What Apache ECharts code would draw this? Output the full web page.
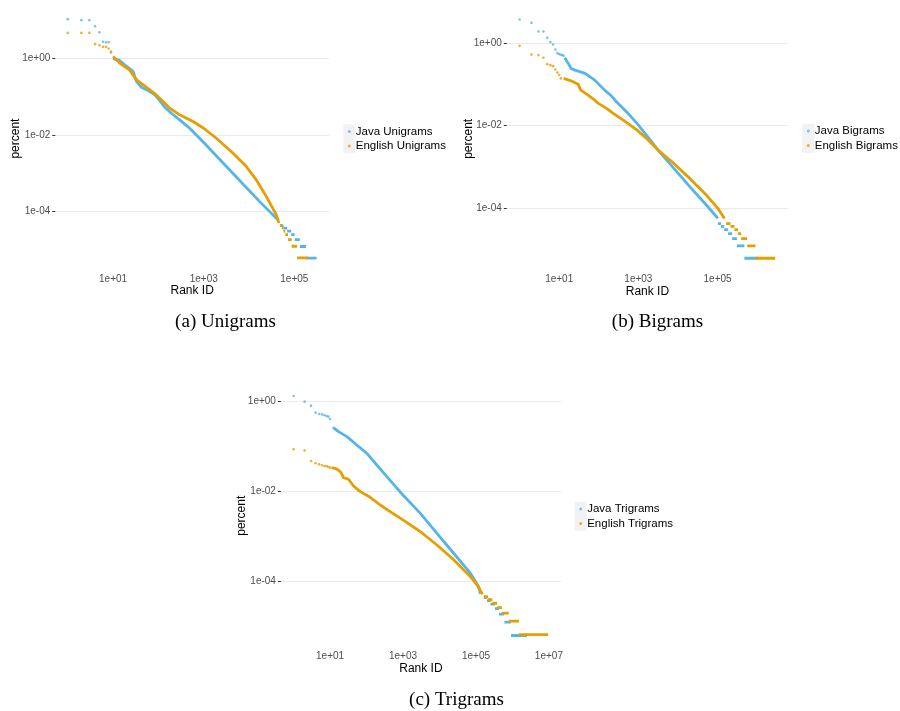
<!DOCTYPE html>
<html><head><meta charset="utf-8">
<script src="https://cdn.jsdelivr.net/npm/echarts@6/dist/echarts.min.js"></script>
<style>html,body{margin:0;padding:0;background:#fff}#c{width:900px;height:711px}</style>
</head><body><div id="c"></div>
<script>
// ---------- DATA (rank, percent) ----------
// (a) Unigrams
const uniJavaHead = [[1,10.4],[2,9.8],[3,9.8],[4,6.8],[5,4.75],[6,2.66],[7,2.6],[8,2.6],[9,1.4]];
const uniJavaBody = [[10,0.977],[14,0.871],[20,0.607],[28,0.449],[30,0.333],[33,0.246],[42,0.175],[59,0.144],[83,0.110],[107,0.0787],[138,0.0527],[194,0.0367],[295,0.0246],[490,0.0149],[1000,0.00631],[3980,0.00113],[17200,0.000182],[43700,0.0000607]];
const uniJavaSteps = [[49000,57500,4.3e-5],[57500,69200,3.7e-5],[69200,85100,3.1e-5],[85100,102000,2.5e-5],[102000,132000,1.85e-5],[132000,182000,1.23e-5],[182000,309000,6.15e-6]];
const uniEngHead = [[1,4.56],[2,4.56],[3,4.56],[4,2.32],[5,2.18],[6,1.97],[7,1.97],[8,1.78],[9,1.49]];
const uniEngBody = [[10,1.10],[15,0.698],[23,0.495],[33,0.272],[54,0.175],[90,0.110],[127,0.0741],[178,0.0497],[295,0.0333],[582,0.0223],[1000,0.0149],[1900,0.00818],[4440,0.00333],[8730,0.00149],[14500,0.00067],[24100,0.000246],[40100,0.0000818],[45700,0.00005]];
const uniEngSteps = [[47900,52500,4.35e-5],[52500,57500,3.75e-5],[57500,63100,3.1e-5],[63100,72400,2.5e-5],[72400,87100,1.87e-5],[87100,115000,1.25e-5],[115000,200000,6.25e-6]];
// (b) Bigrams
const biJavaHead = [[1,3.84],[2,3.17],[3,1.95],[4,1.95],[5,1.37],[6,1.08],[7,0.944],[8,0.714],[9,0.58],[10,0.55],[11,0.53],[12,0.52],[13,0.5]];
const biJavaBody = [[14,0.45],[15,0.39],[17,0.326],[20,0.246],[25,0.224],[45,0.186],[79,0.128],[141,0.0731],[210,0.0524],[280,0.0381],[501,0.0217],[927,0.0113],[1600,0.00589],[3140,0.00254],[7530,0.000962],[19800,0.000326],[52100,0.000117],[102000,0.000055]];
const biJavaSteps = [[102000,122000,4.13e-5],[122000,147000,3.54e-5],[147000,185000,2.95e-5],[185000,233000,2.36e-5],[233000,307000,1.77e-5],[307000,475000,1.18e-5],[475000,1040000,5.9e-6]];
const biEngHead = [[1,0.875],[2,0.54],[3,0.52],[4,0.447],[5,0.313],[6,0.296],[7,0.28],[8,0.233],[9,0.197],[10,0.17],[11,0.141]];
const biEngBody = [[13,0.141],[20,0.123],[30,0.102],[35,0.0731],[54,0.0552],[79,0.0417],[97,0.0347],[157,0.0263],[231,0.0198],[414,0.0136],[927,0.00778],[1600,0.0049],[3140,0.00254],[7530,0.00125],[19800,0.000519],[52100,0.000204],[102000,0.0000966],[150000,0.000055]];
const biEngSteps = [[165000,212000,4.13e-5],[212000,267000,3.54e-5],[267000,329000,2.95e-5],[329000,395000,2.36e-5],[395000,559000,1.77e-5],[559000,906000,1.18e-5],[906000,2860000,5.9e-6]];
// (c) Trigrams
const triJavaHead = [[1,1.34],[2,1.0],[3,0.815],[4,0.569],[5,0.531],[6,0.52],[7,0.496],[8,0.479],[9,0.463],[10,0.41]];
const triJavaBody = [[12,0.267],[17,0.214],[29,0.166],[54,0.108],[102,0.0703],[191,0.0385],[361,0.0212],[991,0.00826],[2950,0.00324],[8510,0.00115],[24500,0.000412],[70100,0.000148],[119000,0.0000741],[132000,0.000051]];
const triJavaSteps = [[162000,200000,4.2e-5],[200000,251000,3.6e-5],[251000,331000,3.0e-5],[331000,427000,2.4e-5],[427000,603000,1.8e-5],[603000,912000,1.2e-5],[912000,2510000,6.0e-6]];
const triEngHead = [[1,0.0865],[2,0.0807],[3,0.0474],[4,0.0422],[5,0.0398],[6,0.038],[7,0.0367],[8,0.0363],[9,0.0348],[10,0.034]];
const triEngBody = [[11,0.0339],[15,0.0316],[19,0.0275],[21,0.0239],[23,0.0201],[32,0.0185],[44,0.0131],[67,0.0098],[126,0.00733],[237,0.00493],[445,0.00351],[991,0.00229],[2950,0.00126],[8510,0.000631],[24500,0.000295],[70100,0.000124],[107000,0.0000809],[151000,0.00005]];
const triEngSteps = [[166000,214000,4.41e-5],[214000,282000,3.78e-5],[282000,380000,3.15e-5],[380000,513000,2.52e-5],[513000,794000,1.89e-5],[794000,1510000,1.26e-5],[1510000,9550000,6.3e-6]];
// tick exponents (labels 1e+01 ...)
const uniXTicks = [1,3,5];
const biXTicks = [1,3,5];
const triXTicks = [1,3,5,7];
const yTicks = [-4,-2,0];
const uniNames = ['Java Unigrams','English Unigrams'];
const biNames = ['Java Bigrams','English Bigrams'];
const triNames = ['Java Trigrams','English Trigrams'];
const captions = ['(a) Unigrams','(b) Bigrams','(c) Trigrams'];

// ---------- BUILD ----------
const JAVA = '#56B4E9', ENG = '#E69F00';
const FONT = '"Liberation Sans", Arial, sans-serif';
const L = Math.log10;
const toLog = a => a.map(p => [L(p[0]), L(p[1])]);
function lineData(body, steps){
  const out = toLog(body);
  steps.forEach(s => { out.push([NaN, NaN]); out.push([L(s[0]), L(s[2])], [L(s[1]), L(s[2])]); });
  return out;
}
function fmt(v){ const e = Math.round(v); return '1e' + (e < 0 ? '-' : '+') + String(Math.abs(e)).padStart(2,'0'); }
function ext(pts){ let mn=Infinity, mx=-Infinity; pts.forEach(v=>{ if(isFinite(v)){ mn=Math.min(mn,v); mx=Math.max(mx,v);} }); const pad=(mx-mn)*0.05; return [mn-pad, mx+pad]; }

const panels = [
  {jh:uniJavaHead,jb:uniJavaBody,js:uniJavaSteps,eh:uniEngHead,eb:uniEngBody,es:uniEngSteps,xt:uniXTicks,names:uniNames,cap:captions[0],
   grid:{left:55.3,top:7.2,width:273.7,height:262.8}, dot:[349.3,131.5], capPos:[225.5,322], yGap:34},
  {jh:biJavaHead,jb:biJavaBody,js:biJavaSteps,eh:biEngHead,eb:biEngBody,es:biEngSteps,xt:biXTicks,names:biNames,cap:captions[1],
   grid:{left:506.8,top:7.5,width:281.2,height:262.7}, dot:[808.3,131], capPos:[657.5,322], yGap:32.5},
  {jh:triJavaHead,jb:triJavaBody,js:triJavaSteps,eh:triEngHead,eb:triEngBody,es:triEngSteps,xt:triXTicks,names:triNames,cap:captions[2],
   grid:{left:280.9,top:384,width:280,height:263.5}, dot:[580.7,509], capPos:[456.5,700], yGap:33}
];

const ROW = 14.5;
const option = {animation:false, backgroundColor:'#fff', grid:[], xAxis:[], yAxis:[], series:[], legend:[], graphic:[]};
panels.forEach((P, i) => {
  const xs = [], ys = [];
  [P.jh,P.jb,P.eh,P.eb].forEach(a => a.forEach(p => { xs.push(L(p[0])); ys.push(L(p[1])); }));
  [P.js,P.es].forEach(a => a.forEach(s => { xs.push(L(s[0]), L(s[1])); ys.push(L(s[2])); }));
  const xe = ext(xs), ye = ext(ys);
  option.grid.push(Object.assign({containLabel:false}, P.grid));
  option.xAxis.push({type:'value', gridIndex:i, min:xe[0], max:xe[1], position:'bottom',
    name:'Rank ID', nameLocation:'middle', nameGap:15, nameMoveOverlap:false, nameTextStyle:{fontSize:12, color:'#000', fontFamily:FONT},
    axisLine:{show:false, onZero:false}, axisTick:{show:false, customValues:P.xt},
    axisLabel:{customValues:P.xt, formatter:fmt, fontSize:10, color:'#4d4d4d', margin:4, fontFamily:FONT},
    splitLine:{show:false}});
  option.yAxis.push({type:'value', gridIndex:i, min:ye[0], max:ye[1], position:'left',
    name:'percent', nameLocation:'middle', nameGap:P.yGap, nameMoveOverlap:false, nameTextStyle:{fontSize:12, color:'#000', fontFamily:FONT},
    axisLine:{show:false, onZero:false}, axisTick:{show:true, length:3, lineStyle:{color:'#333', width:1, type:'solid'}, customValues:yTicks},
    axisLabel:{customValues:yTicks, formatter:fmt, fontSize:10, color:'#4d4d4d', margin:5, fontFamily:FONT},
    splitLine:{show:true, lineStyle:{color:'#ebebeb', width:1.2, type:'solid'}}});
  const mk = (name, color, head, body, steps) => [
    {type:'scatter', name, xAxisIndex:i, yAxisIndex:i, data:toLog(head), symbol:'circle', symbolSize:2.6, itemStyle:{color}, silent:true},
    {type:'line', name, xAxisIndex:i, yAxisIndex:i, data:lineData(body, steps), showSymbol:false, symbol:'none', connectNulls:false,
     lineStyle:{color, width:2.8}, itemStyle:{color}, silent:true}
  ];
  option.series.push(...mk(P.names[0], JAVA, P.jh, P.jb, P.js), ...mk(P.names[1], ENG, P.eh, P.eb, P.es));
  option.legend.push({orient:'vertical', left:P.dot[0]-1.5, top:P.dot[1]-ROW/2, padding:0, itemGap:0,
    itemWidth:3, itemHeight:3, icon:'circle', selectedMode:false,
    data:P.names, textStyle:{fontSize:11.5, color:'#000', fontFamily:FONT, lineHeight:ROW}});
  option.graphic.push({type:'rect', z:0, silent:true, shape:{x:P.dot[0]-6, y:P.dot[1]-ROW/2, width:12, height:ROW*2}, style:{fill:'#f2f2f2'}});
  option.graphic.push({type:'text', silent:true, x:P.capPos[0], y:P.capPos[1],
    style:{text:P.cap, font:'19px "Liberation Serif", "Times New Roman", serif', fill:'#000', textAlign:'center', textVerticalAlign:'middle', verticalAlign:'middle'}});
});
const chart = echarts.init(document.getElementById('c'), null, {renderer:'canvas'});
chart.setOption(option);
</script></body></html>
